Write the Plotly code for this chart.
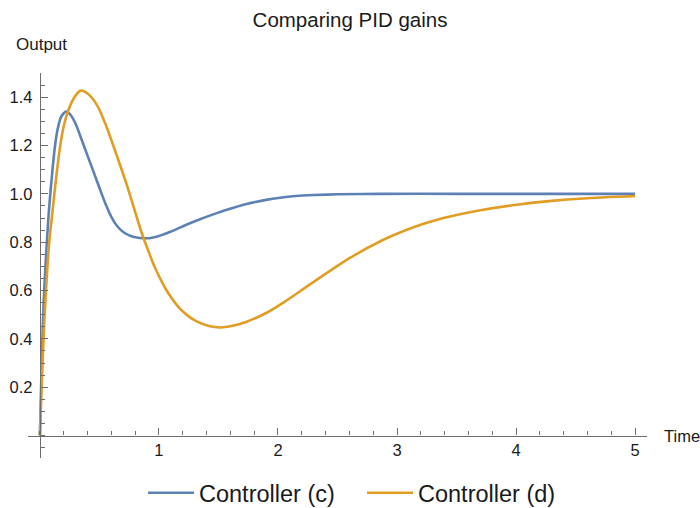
import plotly.graph_objects as go

# Controller (c) step response
t_c = [0, 0.01, 0.02, 0.03, 0.04, 0.056, 0.07, 0.084, 0.10, 0.126, 0.15, 0.18, 0.224, 0.26,
       0.30, 0.35, 0.40, 0.45, 0.50, 0.55, 0.60, 0.65, 0.70, 0.75, 0.80, 0.897, 1.0, 1.12,
       1.23, 1.345, 1.456, 1.57, 1.737, 1.90, 2.017, 2.15, 2.30, 2.5, 2.86, 3.5, 4.0, 4.5, 5.0]
y_c = [0, 0.20, 0.38, 0.53, 0.64, 0.78, 0.89, 0.98, 1.07, 1.195, 1.27, 1.32, 1.34, 1.325,
       1.29, 1.225, 1.158, 1.092, 1.025, 0.96, 0.905, 0.866, 0.842, 0.828, 0.82, 0.816, 0.826,
       0.848, 0.872, 0.895, 0.915, 0.934, 0.958, 0.975, 0.984, 0.991, 0.995, 0.998, 1.0,
       1.0, 1.0, 1.0, 1.0]

# Controller (d) step response
t_d = [0, 0.014, 0.036, 0.056, 0.078, 0.10, 0.126, 0.168, 0.20, 0.238, 0.29, 0.342, 0.40,
       0.476, 0.55, 0.616, 0.68, 0.728, 0.80, 0.854, 0.91, 0.966, 1.065, 1.176, 1.25, 1.317,
       1.42, 1.513, 1.62, 1.737, 1.905, 2.045, 2.297, 2.605, 2.885, 3.025, 3.25, 3.445, 3.7,
       4.006, 4.3, 4.566, 5.0]
y_d = [0, 0.19, 0.465, 0.64, 0.80, 0.90, 1.02, 1.19, 1.28, 1.345, 1.40, 1.427, 1.415,
       1.37, 1.29, 1.20, 1.11, 1.04, 0.925, 0.84, 0.765, 0.695, 0.60, 0.525, 0.493, 0.472,
       0.453, 0.447, 0.454, 0.471, 0.508, 0.55, 0.635, 0.735, 0.81, 0.84, 0.88, 0.906, 0.932,
       0.955, 0.971, 0.981, 0.991]

names = ["Controller (c)", "Controller (d)"]
colors = ["#5E81B5", "#E19C24"]

x_ticks = [1, 2, 3, 4, 5]
y_ticks = [0.2, 0.4, 0.6, 0.8, 1.0, 1.2, 1.4]

x_range = [-0.1, 5.1]
y_range = [-0.093, 1.5]

fig = go.Figure()
for t, y, n, c, lg in [(t_c, y_c, names[0], colors[0], "legend"),
                       (t_d, y_d, names[1], colors[1], "legend2")]:
    fig.add_trace(go.Scatter(x=t, y=y, mode="lines", name=n, legend=lg,
                             line=dict(color=c, width=2.6, shape="spline", smoothing=0.8)))

axis_col = "#6e6e6e"
font_family = "Liberation Sans, Arial, sans-serif"
txt_col = "#1a1a1a"

legend_common = dict(orientation="h", xref="container", yref="container",
                     xanchor="left", y=1 - 493 / 508, yanchor="middle",
                     font=dict(size=23.5, color=txt_col), itemwidth=46,
                     bgcolor="rgba(0,0,0,0)")

fig.update_layout(
    width=700, height=508,
    margin=dict(l=28, r=53, t=73, b=50, autoexpand=False),
    plot_bgcolor="white", paper_bgcolor="white",
    font=dict(family=font_family, color=txt_col, size=16),
    title=dict(text="Comparing PID gains", x=0.5, xanchor="center",
               y=1 - 20 / 508, yanchor="middle", yref="container",
               font=dict(size=20.5, color=txt_col)),
    showlegend=True,
    legend=dict(x=143 / 700, **legend_common),
    legend2=dict(x=362 / 700, **legend_common),
    xaxis=dict(range=x_range, showgrid=False, zeroline=False,
               showline=True, linecolor=axis_col, linewidth=1.2,
               anchor="free", position=(0 - y_range[0]) / (y_range[1] - y_range[0]),
               tickmode="array", tickvals=x_ticks, ticktext=[str(v) for v in x_ticks],
               ticks="inside", ticklen=7, tickcolor=axis_col, tickwidth=1,
               minor=dict(dtick=0.2, tick0=0, ticks="inside", ticklen=4,
                          tickcolor=axis_col, tickwidth=1),
               tickfont=dict(size=16.5, color=txt_col)),
    yaxis=dict(range=y_range, showgrid=False, zeroline=False,
               showline=True, linecolor=axis_col, linewidth=1.2,
               anchor="free", position=(0 - x_range[0]) / (x_range[1] - x_range[0]),
               tickmode="array", tickvals=y_ticks, ticktext=["%.1f" % v for v in y_ticks],
               ticks="inside", ticklen=7, tickcolor=axis_col, tickwidth=1,
               ticklabelstandoff=4,
               minor=dict(dtick=0.05, tick0=0, ticks="inside", ticklen=4,
                          tickcolor=axis_col, tickwidth=1),
               tickfont=dict(size=16.5, color=txt_col)),
    annotations=[
        dict(text="Output", xref="paper", yref="paper", x=-14 / 619, y=1 + 28 / 385,
             xanchor="left", yanchor="middle", showarrow=False,
             font=dict(size=17, color=txt_col)),
        dict(text="Time", xref="paper", yref="paper", x=1 + 15 / 619,
             y=(0 - y_range[0]) / (y_range[1] - y_range[0]),
             xanchor="left", yanchor="middle", showarrow=False,
             font=dict(size=16.5, color=txt_col)),
    ],
)

fig.write_html("out.html", config={"displayModeBar": False},
               post_script="document.body.style.margin='0';document.body.style.overflow='hidden';")
